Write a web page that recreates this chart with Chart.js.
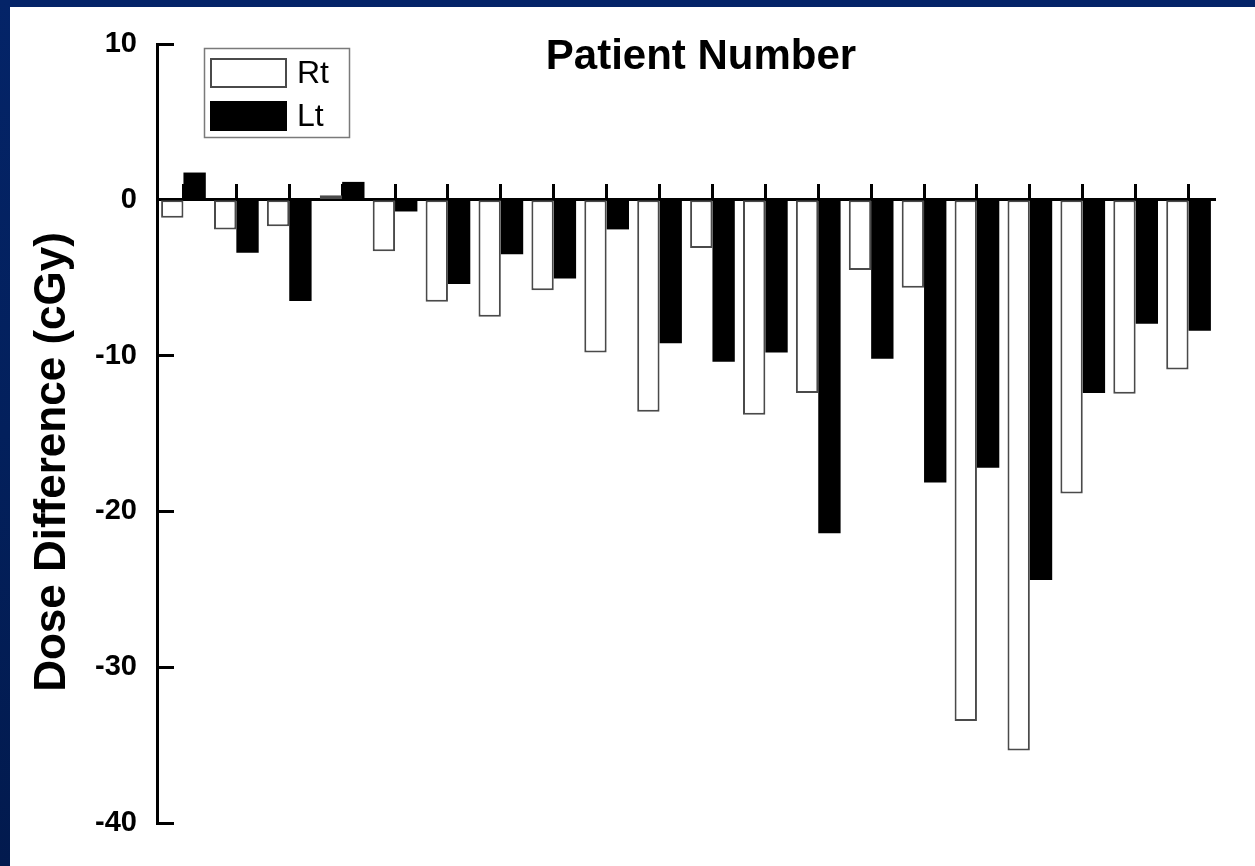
<!DOCTYPE html>
<html>
<head>
<meta charset="utf-8">
<script src="https://cdn.jsdelivr.net/npm/chart.js@4/dist/chart.umd.min.js"></script>
<style>
  html, body { margin: 0; padding: 0; }
  body {
    width: 1255px; height: 866px; overflow: hidden;
    background: linear-gradient(180deg, #042468 0%, #03205c 50%, #021a4e 100%);
    position: relative;
  }
  #wrap { position: absolute; left: 10px; top: 7px; width: 1245px; height: 859px; background: #fff; }
  canvas { display: block; }
</style>
</head>
<body>
<div id="wrap"><canvas id="chart" width="1245" height="859"></canvas></div>
<script>
// Patients 1..20, dose difference per side in cGy
const patients = ['1','2','3','4','5','6','7','8','9','10','11','12','13','14','15','16','17','18','19','20'];
const rightSide = [-1.15, -1.9, -1.7, 0.3, -3.3, -6.55, -7.5, -5.8, -9.8, -13.6, -3.1, -13.8, -12.4, -4.5, -5.65, -33.45, -35.35, -18.85, -12.45, -10.9];
const leftSide  = [1.75, -3.4, -6.5, 1.15, -0.75, -5.4, -3.5, -5.05, -1.9, -9.2, -10.4, -9.8, -21.4, -10.2, -18.15, -17.2, -24.4, -12.4, -7.95, -8.4];
const yTicks = { min: -40, max: 10, step: 10 };
const xTitle = 'Patient Number';
const yTitle = 'Dose Difference (cGy)';

const FONT = "'Liberation Sans', Arial, Helvetica, sans-serif";

// Titles drawn over the plot (top title sits inside the plot area)
const titlesPlugin = {
  id: 'titles',
  afterDraw(chart) {
    const ctx = chart.ctx;
    const a = chart.chartArea;
    ctx.save();
    ctx.fillStyle = '#000';
    ctx.font = 'bold 42px ' + FONT;
    ctx.textAlign = 'center';
    ctx.textBaseline = 'middle';
    ctx.fillText(xTitle, a.left + 544, a.top + 13);
    ctx.translate(43, a.top + 418);
    ctx.rotate(-Math.PI / 2);
    ctx.font = 'bold 44px ' + FONT;
    ctx.fillText(yTitle, 0, 0);
    ctx.restore();
  }
};

// Boxed legend in the upper-left corner of the plot
const boxLegendPlugin = {
  id: 'boxLegend',
  afterDraw(chart) {
    const ctx = chart.ctx;
    const a = chart.chartArea;
    const bx = a.left + 47, by = a.top + 4, bw = 145, bh = 89;
    ctx.save();
    ctx.strokeStyle = '#7a7a7a';
    ctx.lineWidth = 1.5;
    ctx.strokeRect(bx + 0.5, by + 0.5, bw, bh);
    ctx.font = '32px ' + FONT;
    ctx.textAlign = 'left';
    ctx.textBaseline = 'middle';
    chart.data.datasets.forEach((ds, i) => {
      const sx = bx + 6, sy = by + 10 + i * 43, sw = 77, sh = 30;
      ctx.fillStyle = ds.backgroundColor;
      ctx.fillRect(sx, sy, sw, sh);
      if (ds.borderWidth) {
        ctx.strokeStyle = ds.borderColor;
        ctx.lineWidth = ds.borderWidth;
        ctx.strokeRect(sx + 1, sy + 1, sw - 2, sh - 2);
      }
      ctx.fillStyle = '#000';
      ctx.fillText(ds.label, sx + sw + 10, sy + sh / 2 + 1);
    });
    ctx.restore();
  }
};

new Chart(document.getElementById('chart'), {
  type: 'bar',
  data: {
    labels: patients,
    datasets: [
      {
        label: 'Rt',
        data: rightSide,
        backgroundColor: '#ffffff',
        borderColor: '#4a4a4a',
        borderWidth: 2,
        borderSkipped: false,
        barPercentage: 1.0,
        categoryPercentage: 0.845
      },
      {
        label: 'Lt',
        data: leftSide,
        backgroundColor: '#000000',
        borderWidth: 0,
        barPercentage: 1.0,
        categoryPercentage: 0.845
      }
    ]
  },
  options: {
    responsive: false,
    animation: false,
    devicePixelRatio: 1,
    layout: { padding: { top: 37, right: 40, bottom: 43, left: 0 } },
    plugins: {
      legend: { display: false },
      title: { display: false },
      tooltip: { enabled: false }
    },
    scales: {
      x: {
        type: 'category',
        position: { y: 0 },
        offset: true,
        z: 1,
        ticks: { display: false },
        grid: {
          display: true,
          offset: false,
          drawOnChartArea: false,
          drawTicks: true,
          tickLength: -17,
          tickWidth: 3,
          tickColor: '#000'
        },
        border: { display: true, width: 3, color: '#000' }
      },
      y: {
        position: 'left',
        min: yTicks.min,
        max: yTicks.max,
        ticks: {
          stepSize: yTicks.step,
          padding: 37,
          color: '#000',
          font: { family: FONT, size: 29, weight: 'bold' }
        },
        grid: {
          drawOnChartArea: false,
          drawTicks: true,
          tickLength: -17,
          tickWidth: 3,
          tickColor: '#000'
        },
        border: { display: true, width: 3, color: '#000' },
        afterFit(scale) {
          scale.width = 147;
          scale.paddingTop = 0;
          scale.paddingBottom = 0;
        }
      }
    }
  },
  plugins: [titlesPlugin, boxLegendPlugin]
});
</script>
</body>
</html>
